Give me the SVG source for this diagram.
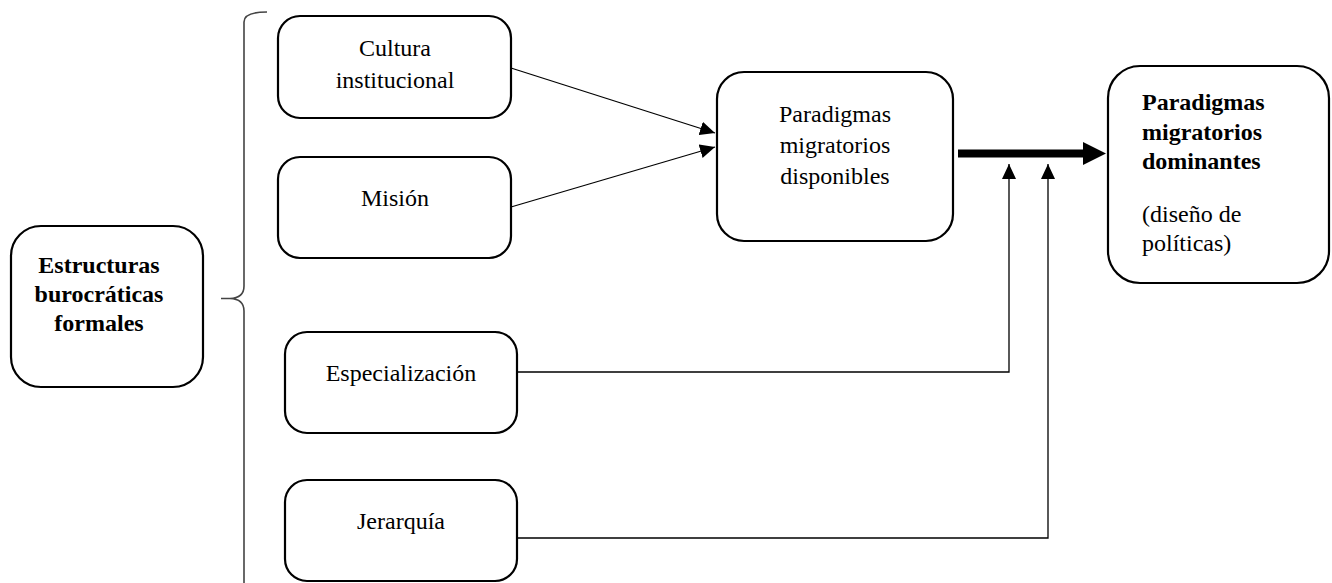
<svg xmlns="http://www.w3.org/2000/svg" width="1332" height="583" viewBox="0 0 1332 583">
<style>
.box{fill:#fff;stroke:#000;stroke-width:2.2}
.t{font-family:"Liberation Serif","Times New Roman",serif;font-size:24px;fill:#000}
.c{text-anchor:middle}
.b{font-weight:bold}
.ln{fill:none;stroke:#000;stroke-width:1.3}
.br{fill:none;stroke:#444;stroke-width:1.6}
</style>
<defs>
<marker id="ah" viewBox="0 0 15 14" markerWidth="15" markerHeight="14" refX="15" refY="7" orient="auto" markerUnits="userSpaceOnUse">
<path d="M0,0 L15,7 L0,14 z" fill="#000"/>
</marker>
</defs>
<rect width="1332" height="583" fill="#fff"/>
<g id="brace">
<path class="br" d="M267,12 Q244,12 244,22 L244,286 Q244,298 230,298.5 L221,298.5 M230,298.5 Q244,299 244,311 L244,583"/>
</g>
<g id="connectors">
<line class="ln" x1="511" y1="68" x2="715" y2="133" marker-end="url(#ah)"/>
<line class="ln" x1="511" y1="207" x2="715" y2="147" marker-end="url(#ah)"/>
<polyline class="ln" points="517,372 1009,372 1009,164" marker-end="url(#ah)"/>
<polyline class="ln" points="517,538 1048,538 1048,164" marker-end="url(#ah)"/>
<line x1="958" y1="153.5" x2="1085" y2="153.5" stroke="#000" stroke-width="8"/>
<polygon points="1083,142 1106,153.5 1083,165" fill="#000"/>
</g>
<g id="estructuras">
<rect class="box" x="11" y="226" width="192" height="161" rx="30"/>
<text class="t c b" x="99" y="273">Estructuras</text>
<text class="t c b" x="99" y="302">burocráticas</text>
<text class="t c b" x="99" y="331">formales</text>
</g>
<g id="cultura">
<rect class="box" x="278" y="16" width="233" height="102" rx="22"/>
<text class="t c" x="395" y="56">Cultura</text>
<text class="t c" x="395" y="88">institucional</text>
</g>
<g id="mision">
<rect class="box" x="278" y="157" width="233" height="101" rx="22"/>
<text class="t c" x="395" y="206">Misión</text>
</g>
<g id="especializacion">
<rect class="box" x="285" y="332" width="232" height="101" rx="22"/>
<text class="t c" x="401" y="381">Especialización</text>
</g>
<g id="jerarquia">
<rect class="box" x="285" y="480" width="232" height="101" rx="22"/>
<text class="t c" x="401" y="529">Jerarquía</text>
</g>
<g id="disponibles">
<rect class="box" x="717" y="72" width="236" height="169" rx="27"/>
<text class="t c" x="835" y="122">Paradigmas</text>
<text class="t c" x="835" y="153">migratorios</text>
<text class="t c" x="835" y="184">disponibles</text>
</g>
<g id="dominantes">
<rect class="box" x="1108" y="66" width="221" height="217" rx="32"/>
<text class="t b" x="1142" y="110">Paradigmas</text>
<text class="t b" x="1142" y="140">migratorios</text>
<text class="t b" x="1142" y="169">dominantes</text>
<text class="t" x="1142" y="222">(diseño de</text>
<text class="t" x="1142" y="251">políticas)</text>
</g>
</svg>
